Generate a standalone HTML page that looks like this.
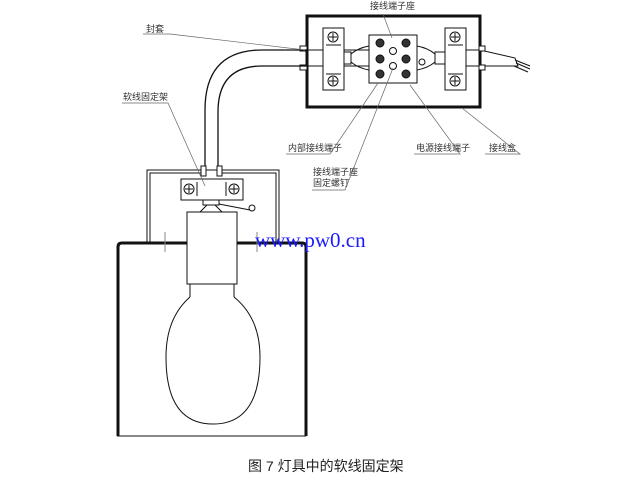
<!DOCTYPE html>
<html><head><meta charset="utf-8"><style>
body{margin:0;background:#fff}
svg{display:block}
.t{font-family:"Liberation Sans","Noto Sans CJK SC",sans-serif;font-size:9px;fill:#333}
</style></head><body>
<svg width="640" height="479" viewBox="0 0 640 479" xmlns="http://www.w3.org/2000/svg">
<g fill="none" stroke="#111" stroke-width="1">
<!-- junction box -->
<rect x="307" y="16" width="173" height="91" stroke-width="3"/>
<!-- left cable inside -->
<path d="M307 50H370 M307 66H370"/>
<rect x="323" y="28" width="21" height="62" fill="#fff"/>
<line x1="326" y1="45" x2="341" y2="45"/><line x1="326" y1="74" x2="341" y2="74"/>
<circle cx="333" cy="37" r="5"/><path d="M333 33v8M329 37h8"/>
<circle cx="333" cy="81" r="5"/><path d="M333 77v8M329 81h8"/>
<rect x="344" y="52" width="7" height="12" fill="#fff"/>
<path d="M351 54 Q358 48 369 46 M351 62 Q358 68 369 70"/>
<!-- terminal block -->
<rect x="369" y="35" width="48" height="48" fill="#fff"/>
<g fill="#333"><circle cx="380" cy="43" r="4"/><circle cx="380" cy="59" r="4"/><circle cx="380" cy="74" r="4"/>
<circle cx="406" cy="43" r="4"/><circle cx="406" cy="59" r="4"/><circle cx="406" cy="74" r="4"/></g>
<circle cx="393" cy="51" r="3.5"/><circle cx="393" cy="66" r="3.5"/>
<circle cx="422" cy="62" r="3"/>
<path d="M417 46 Q428 48 435 54 M417 70 Q428 68 435 62"/>
<rect x="435" y="52" width="10" height="12" fill="#fff"/>
<rect x="445" y="28" width="21" height="62" fill="#fff"/>
<line x1="448" y1="45" x2="463" y2="45"/><line x1="448" y1="74" x2="463" y2="74"/>
<circle cx="455" cy="37" r="5"/><path d="M455 33v8M451 37h8"/>
<circle cx="455" cy="81" r="5"/><path d="M455 77v8M451 81h8"/>
<!-- right cable -->
<path d="M466 50H480 L515 58 L518 66 L480 66H466"/>
<path d="M515 60L530 66M516 63L530 69M514 66L528 72"/>
<rect x="300" y="46" width="7" height="5" fill="#fff"/><rect x="300" y="65" width="7" height="5" fill="#fff"/>
<rect x="479" y="46" width="6" height="5" fill="#fff"/><rect x="479" y="65" width="6" height="5" fill="#fff"/>
<!-- tube -->
<path d="M307 50 H262 Q205 50 205 110 V172" stroke-width="1.3"/>
<path d="M307 66 H262 Q218 66 218 112 V172" stroke-width="1.3"/>
<!-- lower box -->
<path d="M147 243 V170 H279 V243" />
<path d="M150 243 V173 H203 M220 173 H276 V243"/>
<rect x="201" y="166" width="5" height="10" fill="#fff"/><rect x="217" y="166" width="5" height="10" fill="#fff"/>
<rect x="181" y="179" width="62" height="21" fill="#fff"/>
<circle cx="189" cy="189" r="5"/><path d="M189 185v8M185 189h8"/>
<circle cx="234" cy="189" r="5"/><path d="M234 185v8M230 189h8"/>
<path d="M197 182v14M226 182v14"/>
<rect x="203" y="200" width="16" height="5"/>
<path d="M200 212 L207 205 M222 212 L215 205 M219 204 L250 210"/>
<circle cx="252" cy="208" r="3"/>
<!-- housing -->
<path d="M118 436 V247 Q118 243 122 243 H187 M237 243 H302 Q306 243 306 247 V436" stroke-width="3"/>
<path d="M117 436 H306"/>
<path d="M165 232 V252 M257 232 V252" stroke="#888"/>
<!-- socket & bulb -->
<rect x="187" y="212" width="50" height="72" fill="#fff"/>
<path d="M190 284 V297 M234 284 V297"/>
<path d="M190 297 Q166 318 166 357 Q166 424 213 424 Q260 424 260 357 Q260 318 234 297"/>
</g>
<!-- leaders -->
<g stroke="#666" stroke-width="0.7" fill="none">
<path d="M143 34 H170 L305 50"/>
<path d="M122 103 H168 L205 186"/>
<path d="M286 154 H330 L378 83"/>
<path d="M312 190 H345 L393 68"/>
<path d="M383 14 L392 38"/>
<path d="M414 154 H460 L410 85"/>
<path d="M485 154 H520 L462 108"/>
</g>
<text class="t" x="146" y="32">封套</text>
<text class="t" x="123" y="100">软线固定架</text>
<text class="t" x="370" y="9">接线端子座</text>
<text class="t" x="288" y="151">内部接线端子</text>
<text class="t" x="313" y="175">接线端子座</text>
<text class="t" x="313" y="186">固定螺钉</text>
<text class="t" x="416" y="151">电源接线端子</text>
<text class="t" x="489" y="151">接线盒</text>
<text x="255" y="247" style="font-family:'Liberation Serif',serif;font-size:21px;fill:#1a1aff">www.pw0.cn</text>
<text x="248" y="471" style="font-family:'Liberation Sans','Noto Sans CJK SC',sans-serif;font-size:14px;fill:#222">图 7 灯具中的软线固定架</text>
</svg>
</body></html>
